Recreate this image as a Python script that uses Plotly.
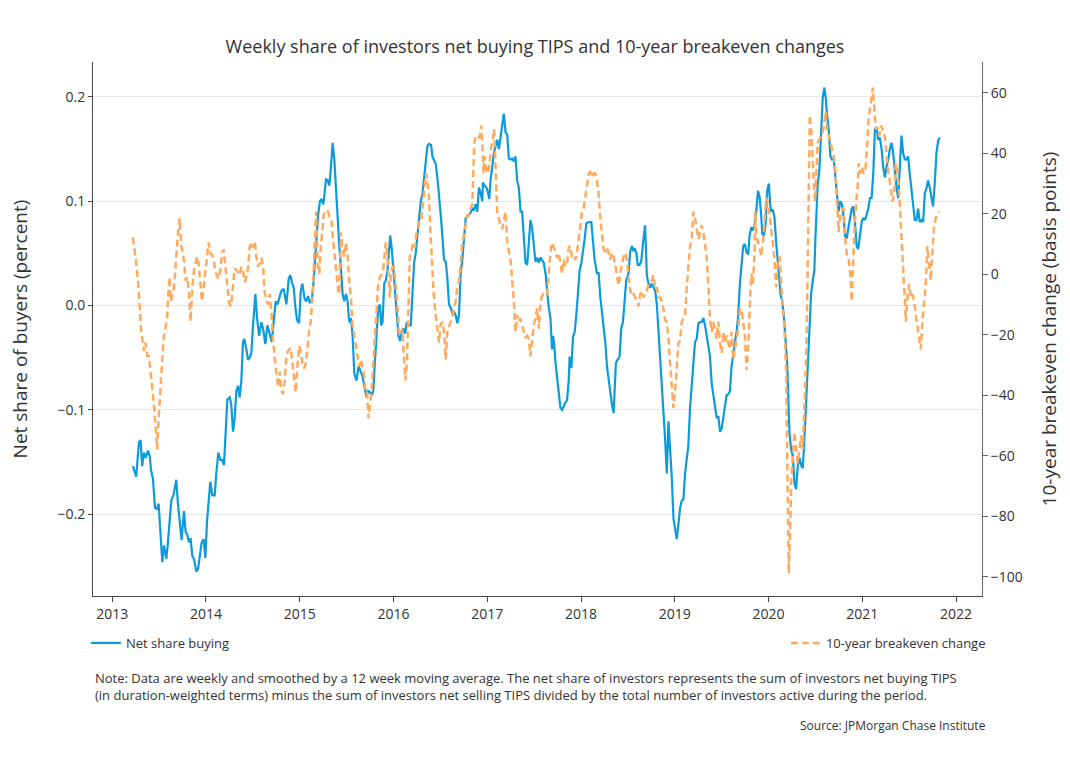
import plotly.graph_objects as go

# ---------------- data (decimal years) ----------------
net_share_years = [
2013.221,2013.256,2013.285,2013.302,2013.320,2013.338,2013.356,2013.381,2013.399,2013.416,
2013.434,2013.456,2013.477,2013.495,2013.516,2013.534,2013.552,2013.577,2013.594,2013.612,
2013.630,2013.655,2013.683,2013.701,2013.719,2013.740,2013.765,2013.783,2013.801,2013.819,
2013.836,2013.854,2013.872,2013.897,2013.915,2013.932,2013.954,2013.975,2013.993,2014.011,
2014.028,2014.046,2014.068,2014.093,2014.110,2014.132,2014.153,2014.174,2014.192,2014.210,
2014.228,2014.253,2014.270,2014.288,2014.306,2014.324,2014.342,2014.359,2014.377,2014.395,
2014.409,2014.431,2014.448,2014.466,2014.484,2014.502,2014.527,2014.544,2014.566,2014.591,
2014.609,2014.633,2014.655,2014.680,2014.701,2014.726,2014.744,2014.762,2014.786,2014.804,
2014.829,2014.858,2014.883,2014.900,2014.918,2014.936,2014.954,2014.972,2014.993,2015.011,
2015.028,2015.053,2015.071,2015.089,2015.107,2015.128,2015.149,2015.171,2015.196,2015.216,
2015.230,2015.252,2015.266,2015.280,2015.298,2015.316,2015.333,2015.351,2015.369,2015.387,
2015.404,2015.422,2015.440,2015.457,2015.475,2015.493,2015.511,2015.528,2015.546,2015.564,
2015.582,2015.606,2015.628,2015.645,2015.670,2015.691,2015.713,2015.730,2015.748,2015.770,
2015.784,2015.801,2015.819,2015.837,2015.855,2015.869,2015.883,2015.901,2015.918,2015.936,
2015.947,2015.965,2015.982,2016.000,2016.018,2016.035,2016.053,2016.071,2016.089,2016.106,
2016.124,2016.142,2016.160,2016.184,2016.202,2016.220,2016.238,2016.255,2016.273,2016.291,
2016.309,2016.326,2016.344,2016.362,2016.379,2016.401,2016.415,2016.433,2016.450,2016.468,
2016.486,2016.504,2016.521,2016.539,2016.557,2016.574,2016.592,2016.610,2016.628,2016.645,
2016.663,2016.681,2016.699,2016.716,2016.734,2016.752,2016.770,2016.787,2016.805,2016.823,
2016.840,2016.858,2016.876,2016.894,2016.911,2016.929,2016.947,2016.954,2016.972,2016.993,
2017.011,2017.021,2017.035,2017.053,2017.071,2017.089,2017.106,2017.124,2017.142,2017.160,
2017.177,2017.195,2017.213,2017.230,2017.248,2017.266,2017.284,2017.301,2017.319,2017.337,
2017.355,2017.372,2017.390,2017.408,2017.426,2017.443,2017.461,2017.479,2017.496,2017.514,
2017.532,2017.550,2017.567,2017.585,2017.603,2017.621,2017.638,2017.656,2017.674,2017.691,
2017.702,2017.716,2017.727,2017.745,2017.762,2017.780,2017.798,2017.816,2017.833,2017.851,
2017.869,2017.879,2017.897,2017.915,2017.933,2017.950,2017.968,2017.986,2018.004,2018.021,
2018.039,2018.057,2018.082,2018.110,2018.128,2018.145,2018.170,2018.188,2018.206,2018.223,
2018.241,2018.259,2018.277,2018.294,2018.312,2018.330,2018.348,2018.358,2018.372,2018.390,
2018.411,2018.429,2018.447,2018.465,2018.482,2018.507,2018.525,2018.543,2018.560,2018.571,
2018.589,2018.606,2018.624,2018.642,2018.656,2018.670,2018.684,2018.702,2018.720,2018.738,
2018.755,2018.773,2018.791,2018.809,2018.826,2018.844,2018.862,2018.879,2018.897,2018.915,
2018.933,2018.950,2018.968,2018.986,2019.004,2019.021,2019.039,2019.057,2019.074,2019.092,
2019.110,2019.128,2019.145,2019.163,2019.181,2019.199,2019.216,2019.234,2019.252,2019.270,
2019.287,2019.305,2019.323,2019.340,2019.358,2019.376,2019.394,2019.411,2019.429,2019.447,
2019.465,2019.482,2019.500,2019.518,2019.535,2019.553,2019.571,2019.589,2019.606,2019.624,
2019.642,2019.660,2019.677,2019.695,2019.713,2019.730,2019.748,2019.766,2019.784,2019.798,
2019.816,2019.833,2019.851,2019.869,2019.887,2019.904,2019.922,2019.933,2019.950,2019.968,
2019.986,2020.004,2020.018,2020.028,2020.046,2020.064,2020.082,2020.092,2020.110,2020.128,
2020.145,2020.163,2020.181,2020.199,2020.213,2020.223,2020.241,2020.259,2020.277,2020.294,
2020.312,2020.330,2020.348,2020.365,2020.383,2020.401,2020.418,2020.436,2020.454,2020.472,
2020.489,2020.500,2020.511,2020.525,2020.543,2020.553,2020.567,2020.578,2020.596,2020.610,
2020.624,2020.642,2020.660,2020.677,2020.695,2020.713,2020.730,2020.748,2020.766,2020.784,
2020.801,2020.816,2020.833,2020.851,2020.869,2020.887,2020.904,2020.922,2020.940,2020.957,
2020.975,2020.993,2021.011,2021.028,2021.046,2021.064,2021.082,2021.099,2021.117,2021.135,
2021.152,2021.170,2021.188,2021.206,2021.223,2021.241,2021.259,2021.277,2021.294,2021.312,
2021.330,2021.348,2021.365,2021.383,2021.401,2021.418,2021.436,2021.454,2021.472,2021.489,
2021.507,2021.525,2021.543,2021.560,2021.578,2021.596,2021.613,2021.631,2021.649,2021.667,
2021.684,2021.702,2021.720,2021.738,2021.755,2021.773,2021.791,2021.809,2021.826]

net_share_values = [
-0.154,-0.164,-0.131,-0.129,-0.154,-0.141,-0.146,-0.139,-0.144,-0.159,
-0.166,-0.194,-0.195,-0.190,-0.220,-0.246,-0.230,-0.243,-0.227,-0.210,
-0.187,-0.181,-0.167,-0.190,-0.207,-0.225,-0.197,-0.217,-0.220,-0.227,
-0.223,-0.240,-0.243,-0.255,-0.253,-0.243,-0.227,-0.224,-0.242,-0.207,
-0.187,-0.169,-0.182,-0.182,-0.161,-0.141,-0.148,-0.148,-0.153,-0.121,
-0.090,-0.088,-0.095,-0.121,-0.108,-0.082,-0.077,-0.088,-0.072,-0.035,
-0.032,-0.042,-0.052,-0.050,-0.045,-0.019,0.011,-0.011,-0.029,-0.016,
-0.022,-0.037,-0.019,-0.027,-0.035,-0.012,0.004,0.001,0.008,0.014,
0.016,0.001,0.026,0.029,0.022,0.017,-0.002,-0.014,-0.017,0.014,
0.021,0.006,0.004,0.009,0.003,0.004,0.024,0.051,0.087,0.100,
0.102,0.097,0.113,0.121,0.120,0.115,0.133,0.156,0.140,0.110,
0.077,0.057,0.034,0.011,0.004,0.011,0.004,-0.016,-0.012,-0.029,
-0.065,-0.072,-0.058,-0.063,-0.068,-0.078,-0.088,-0.082,-0.083,-0.086,
-0.082,-0.055,-0.025,-0.002,0.001,-0.019,-0.016,0.021,0.024,0.034,
0.046,0.067,0.054,0.034,0.011,-0.006,-0.029,-0.034,-0.025,-0.022,
-0.027,-0.016,-0.019,-0.019,0.014,0.041,0.051,0.069,0.080,0.100,
0.107,0.123,0.140,0.153,0.155,0.154,0.143,0.140,0.136,0.123,
0.100,0.087,0.067,0.044,0.042,0.027,0.001,-0.002,-0.007,-0.006,
-0.009,-0.017,-0.009,0.031,0.044,0.067,0.084,0.085,0.087,0.089,
0.093,0.092,0.097,0.090,0.113,0.108,0.100,0.118,0.115,0.113,
0.107,0.102,0.120,0.135,0.146,0.153,0.159,0.150,0.163,0.173,
0.184,0.166,0.164,0.141,0.140,0.141,0.138,0.143,0.120,0.113,
0.090,0.090,0.060,0.041,0.039,0.058,0.082,0.074,0.057,0.042,
0.046,0.041,0.046,0.044,0.041,0.031,0.014,-0.002,-0.012,-0.042,
-0.029,-0.039,-0.054,-0.068,-0.083,-0.098,-0.100,-0.096,-0.093,-0.091,
-0.072,-0.049,-0.060,-0.030,-0.025,-0.009,0.011,0.034,0.041,0.051,
0.064,0.079,0.080,0.080,0.064,0.044,0.031,0.031,0.008,-0.006,
-0.019,-0.035,-0.058,-0.072,-0.085,-0.095,-0.103,-0.082,-0.055,-0.052,
-0.049,-0.022,-0.016,0.004,0.024,0.031,0.052,0.057,0.052,0.055,
0.051,0.039,0.039,0.042,0.057,0.067,0.077,0.029,0.021,0.017,
0.021,0.017,0.014,0.001,-0.025,-0.052,-0.068,-0.101,-0.128,-0.161,
-0.111,-0.138,-0.164,-0.204,-0.214,-0.224,-0.210,-0.194,-0.187,-0.186,
-0.161,-0.148,-0.134,-0.098,-0.072,-0.055,-0.035,-0.032,-0.017,-0.016,
-0.016,-0.012,-0.019,-0.029,-0.035,-0.049,-0.075,-0.085,-0.095,-0.108,
-0.106,-0.121,-0.118,-0.108,-0.095,-0.086,-0.085,-0.082,-0.058,-0.045,
-0.035,-0.025,-0.009,0.021,0.041,0.057,0.059,0.051,0.049,0.067,
0.075,0.072,0.077,0.090,0.110,0.105,0.087,0.069,0.067,0.077,
0.110,0.117,0.097,0.090,0.092,0.084,0.060,0.047,0.031,0.011,
0.004,-0.009,-0.032,-0.055,-0.095,-0.121,-0.138,-0.144,-0.171,-0.176,
-0.154,-0.146,-0.153,-0.156,-0.128,-0.095,-0.052,-0.016,0.011,0.024,
0.034,0.064,0.097,0.117,0.130,0.153,0.176,0.199,0.209,0.199,
0.183,0.169,0.143,0.140,0.141,0.126,0.110,0.090,0.100,0.097,
0.085,0.067,0.064,0.074,0.084,0.093,0.095,0.080,0.057,0.054,
0.067,0.080,0.084,0.082,0.087,0.093,0.103,0.103,0.126,0.169,
0.171,0.159,0.161,0.150,0.133,0.123,0.133,0.140,0.150,0.156,
0.146,0.126,0.113,0.103,0.136,0.163,0.146,0.140,0.140,0.143,
0.126,0.110,0.093,0.082,0.082,0.093,0.080,0.082,0.080,0.108,
0.112,0.120,0.113,0.103,0.095,0.117,0.146,0.158,0.161]

breakeven_years = [
2013.221,2013.238,2013.256,2013.274,2013.292,2013.310,2013.327,2013.338,2013.356,2013.374,
2013.391,2013.409,2013.427,2013.445,2013.463,2013.480,2013.495,2013.512,2013.530,2013.548,
2013.566,2013.584,2013.598,2013.612,2013.623,2013.637,2013.655,2013.673,2013.690,2013.705,
2013.719,2013.737,2013.754,2013.769,2013.783,2013.801,2013.819,2013.836,2013.854,2013.872,
2013.890,2013.904,2013.922,2013.940,2013.957,2013.975,2013.993,2014.011,2014.028,2014.046,
2014.064,2014.082,2014.100,2014.117,2014.135,2014.153,2014.171,2014.189,2014.206,2014.224,
2014.246,2014.267,2014.288,2014.306,2014.324,2014.342,2014.359,2014.377,2014.395,2014.413,
2014.431,2014.448,2014.466,2014.484,2014.502,2014.520,2014.537,2014.555,2014.573,2014.591,
2014.609,2014.626,2014.644,2014.662,2014.680,2014.698,2014.715,2014.733,2014.751,2014.769,
2014.786,2014.804,2014.822,2014.840,2014.858,2014.875,2014.893,2014.904,2014.922,2014.940,
2014.957,2014.975,2014.993,2015.011,2015.028,2015.046,2015.064,2015.082,2015.100,2015.117,
2015.138,2015.156,2015.174,2015.191,2015.209,2015.220,2015.238,2015.255,2015.273,2015.298,
2015.316,2015.340,2015.358,2015.376,2015.394,2015.411,2015.422,2015.440,2015.457,2015.475,
2015.493,2015.511,2015.528,2015.546,2015.564,2015.582,2015.599,2015.617,2015.635,2015.652,
2015.670,2015.688,2015.699,2015.716,2015.734,2015.748,2015.766,2015.784,2015.801,2015.819,
2015.837,2015.855,2015.872,2015.890,2015.904,2015.918,2015.933,2015.947,2015.961,2015.972,
2015.989,2016.004,2016.021,2016.039,2016.057,2016.074,2016.092,2016.110,2016.128,2016.145,
2016.163,2016.174,2016.191,2016.209,2016.227,2016.241,2016.259,2016.277,2016.294,2016.312,
2016.330,2016.348,2016.365,2016.379,2016.394,2016.411,2016.429,2016.450,2016.468,2016.486,
2016.500,2016.521,2016.539,2016.557,2016.574,2016.592,2016.610,2016.628,2016.645,2016.663,
2016.681,2016.699,2016.716,2016.734,2016.752,2016.770,2016.787,2016.805,2016.823,2016.840,
2016.851,2016.862,2016.879,2016.897,2016.918,2016.936,2016.950,2016.961,2016.972,2016.989,
2017.007,2017.025,2017.043,2017.060,2017.074,2017.092,2017.106,2017.124,2017.142,2017.160,
2017.177,2017.195,2017.213,2017.230,2017.248,2017.266,2017.284,2017.301,2017.319,2017.337,
2017.355,2017.372,2017.390,2017.408,2017.426,2017.443,2017.461,2017.479,2017.496,2017.514,
2017.532,2017.550,2017.560,2017.578,2017.596,2017.613,2017.638,2017.656,2017.674,2017.691,
2017.709,2017.727,2017.745,2017.762,2017.780,2017.798,2017.816,2017.833,2017.851,2017.869,
2017.887,2017.904,2017.922,2017.940,2017.957,2017.975,2017.993,2018.011,2018.028,2018.046,
2018.064,2018.082,2018.099,2018.117,2018.135,2018.152,2018.170,2018.188,2018.206,2018.223,
2018.241,2018.259,2018.277,2018.294,2018.312,2018.330,2018.348,2018.365,2018.383,2018.401,
2018.418,2018.436,2018.454,2018.472,2018.489,2018.507,2018.525,2018.543,2018.560,2018.578,
2018.596,2018.613,2018.631,2018.649,2018.667,2018.684,2018.702,2018.720,2018.738,2018.755,
2018.773,2018.791,2018.809,2018.826,2018.844,2018.862,2018.879,2018.897,2018.915,2018.933,
2018.950,2018.968,2018.986,2019.004,2019.021,2019.039,2019.057,2019.074,2019.092,2019.110,
2019.128,2019.145,2019.163,2019.181,2019.199,2019.216,2019.234,2019.252,2019.270,2019.287,
2019.305,2019.323,2019.340,2019.358,2019.376,2019.394,2019.411,2019.429,2019.447,2019.465,
2019.482,2019.500,2019.518,2019.535,2019.553,2019.571,2019.589,2019.606,2019.624,2019.642,
2019.660,2019.677,2019.695,2019.713,2019.730,2019.748,2019.766,2019.784,2019.798,2019.816,
2019.833,2019.851,2019.858,2019.869,2019.887,2019.904,2019.922,2019.940,2019.957,2019.975,
2019.993,2020.011,2020.028,2020.046,2020.064,2020.082,2020.099,2020.117,2020.135,2020.152,
2020.170,2020.188,2020.199,2020.206,2020.216,2020.230,2020.241,2020.259,2020.277,2020.294,
2020.312,2020.330,2020.348,2020.365,2020.383,2020.401,2020.418,2020.429,2020.440,2020.454,
2020.465,2020.482,2020.496,2020.511,2020.525,2020.543,2020.560,2020.578,2020.596,2020.610,
2020.624,2020.642,2020.660,2020.677,2020.695,2020.713,2020.730,2020.748,2020.766,2020.784,
2020.801,2020.819,2020.837,2020.855,2020.872,2020.887,2020.901,2020.915,2020.933,2020.950,
2020.961,2020.979,2020.996,2021.014,2021.032,2021.050,2021.064,2021.082,2021.099,2021.113,
2021.128,2021.145,2021.163,2021.181,2021.199,2021.216,2021.234,2021.252,2021.270,2021.287,
2021.305,2021.323,2021.340,2021.358,2021.376,2021.394,2021.411,2021.429,2021.447,2021.465,
2021.482,2021.500,2021.518,2021.535,2021.553,2021.571,2021.589,2021.606,2021.624,2021.642,
2021.660,2021.677,2021.695,2021.713,2021.730,2021.748,2021.766,2021.784,2021.801,2021.819]

breakeven_values = [
12.2,8.8,3.6,-2.1,-10.0,-19.1,-22.6,-25.4,-22.6,-27.1,
-27.1,-31.7,-37.4,-43.1,-52.2,-57.9,-47.6,-38.5,-30.5,-21.4,
-18.0,-14.6,-6.6,-0.9,-8.9,-7.7,-5.5,1.4,9.3,15.0,
18.5,9.3,7.1,3.6,-2.1,-0.9,-6.6,-15.7,-4.3,1.4,
3.6,5.9,3.6,-3.2,-8.9,-4.3,0.2,4.8,10.5,7.1,
6.5,4.8,0.8,-0.3,-1.5,1.4,7.1,8.2,2.5,-4.3,
-9.5,-10.6,-3.2,1.9,1.4,0.8,-0.3,2.5,1.4,-2.6,
-0.9,1.9,8.8,10.5,8.8,11.0,5.9,2.5,3.6,5.4,
2.5,-6.0,-8.3,-10.0,-6.6,-12.3,-22.0,-28.2,-32.8,-37.4,
-32.2,-38.5,-39.6,-35.1,-27.1,-25.4,-24.8,-24.3,-29.4,-35.1,
-39.1,-30.5,-23.7,-25.4,-29.4,-31.1,-29.4,-24.8,-18.6,-15.7,
-6.6,7.1,20.7,3.6,0.2,7.1,12.8,19.6,20.7,21.3,
19.0,17.3,10.5,4.8,0.2,-5.5,-6.6,13.9,8.2,5.9,
10.5,5.9,-2.1,-7.7,-16.9,-20.3,-24.8,-27.1,-30.5,-28.2,
-31.7,-33.9,-38.5,-38.5,-47.6,-43.1,-38.5,-29.4,-20.3,-12.3,
-3.2,-0.9,-0.3,1.4,5.9,10.5,7.1,-3.2,-7.7,0.2,
2.5,2.5,-3.2,-8.9,-19.1,-20.3,-18.0,-26.0,-35.1,-28.2,
-3.2,5.9,7.1,10.5,8.8,12.8,15.0,17.3,17.3,23.0,
29.8,33.3,29.8,25.3,13.9,3.6,-6.6,-13.4,-19.1,-22.6,
-16.9,-15.7,-19.1,-28.2,-19.1,-16.9,-15.7,-14.0,-11.2,-8.9,
-4.3,-2.1,3.6,10.5,12.8,17.3,19.6,19.6,21.9,23.0,
32.1,43.5,45.8,45.2,45.2,49.2,41.2,33.3,39.0,34.4,
33.3,36.7,42.4,44.6,48.1,31.0,20.7,18.5,16.2,15.0,
18.5,20.7,10.5,8.2,4.8,-2.1,-8.9,-19.1,-13.4,-15.7,
-14.6,-16.9,-19.1,-20.8,-20.3,-21.4,-27.1,-22.6,-16.9,-14.6,
-11.2,-18.0,-12.3,-7.7,-6.6,-7.2,-6.6,0.2,7.1,10.5,
9.3,7.6,5.4,7.1,3.6,0.2,4.8,2.5,3.6,8.8,
9.3,5.4,5.9,4.8,7.1,11.6,16.2,20.7,21.9,25.3,
28.7,33.3,33.8,32.1,33.3,33.3,31.5,26.4,18.5,12.8,
8.2,7.6,8.8,7.1,4.8,7.1,5.9,3.1,0.2,-3.8,
0.2,3.6,5.9,7.1,4.8,-0.9,-5.5,-7.2,-6.6,-7.7,
-8.3,-10.6,-6.6,-5.5,-7.7,-6.6,-5.5,-3.2,-2.6,-2.1,
-0.3,-4.9,-4.3,-7.7,-7.7,-8.9,-11.2,-15.1,-15.7,-21.4,
-29.4,-36.2,-44.2,-38.5,-29.4,-22.6,-22.0,-15.7,-14.6,-13.4,
-4.3,2.5,9.3,11.6,20.7,18.5,15.0,11.6,13.9,16.2,
13.9,9.3,5.9,-3.2,-14.6,-19.1,-15.7,-18.0,-21.4,-15.7,
-22.6,-26.0,-19.1,-22.6,-20.3,-22.6,-24.8,-19.1,-28.2,-24.8,
-21.4,-18.0,-11.2,-12.3,-15.7,-20.3,-31.7,-23.7,-12.3,0.2,
-3.2,7.1,20.7,13.9,10.5,9.3,5.9,10.5,17.3,25.3,
24.1,19.6,16.2,10.5,4.8,-4.3,4.8,5.9,-3.2,-11.2,
-18.0,-31.7,-54.4,-77.2,-98.9,-86.3,-69.2,-60.1,-52.2,-57.9,
-62.4,-57.9,-53.3,-57.9,-45.3,-29.4,2.5,36.7,52.6,48.1,
40.1,31.0,24.1,34.4,43.5,44.6,45.8,46.9,50.3,53.8,
48.1,45.8,43.5,41.2,39.0,34.4,21.9,13.9,19.6,20.7,
21.9,11.6,5.9,4.8,0.2,-8.9,4.8,13.9,23.0,28.7,
36.7,33.3,35.5,33.3,34.4,41.2,50.3,54.9,58.3,61.7,
54.9,48.1,48.6,45.8,49.2,48.1,46.9,42.4,35.5,32.1,
27.6,24.1,26.4,36.7,33.3,27.6,16.2,7.1,-4.3,-15.7,
-7.7,-3.2,-7.7,-6.6,-8.9,-13.4,-16.9,-21.4,-24.8,-15.7,
-8.9,-3.2,9.3,2.5,-2.1,7.1,16.2,18.5,20.2,20.7]

year_ticks = list(range(2013, 2023))

# ---------------- figure ----------------
BLUE = "#0B9BDC"
ORANGE = "#FFAA5E"
FONT = "Open Sans, Lato, DejaVu Sans, sans-serif"
TXT = "#333333"

fig = go.Figure()
fig.add_trace(go.Scatter(
    x=net_share_years, y=net_share_values, name="Net share buying",
    mode="lines", line=dict(color=BLUE, width=2.2), yaxis="y", legend="legend",
    showlegend=True))
fig.add_trace(go.Scatter(
    x=breakeven_years, y=breakeven_values, name="10-year breakeven change",
    mode="lines", line=dict(color=ORANGE, width=2.5, dash="7px,4px"), yaxis="y2",
    legend="legend2", showlegend=True))

fig.update_layout(
    width=1070, height=770,
    showlegend=True,
    margin=dict(l=93, r=88, t=62, b=174),
    paper_bgcolor="white", plot_bgcolor="white",
    font=dict(family=FONT, size=14, color=TXT),
    title=dict(text="Weekly share of investors net buying TIPS and 10-year breakeven changes",
               x=0.5, xanchor="center", y=1 - 47 / 770, yanchor="middle",
               font=dict(size=18, color=TXT, family=FONT, weight=500)),
    xaxis=dict(range=[2012.795, 2022.277], tickmode="array", tickvals=year_ticks,
               ticktext=[str(y) for y in year_ticks],
               showgrid=False, zeroline=False, showline=True, linecolor="#444",
               linewidth=1, ticks="outside", ticklen=5, tickcolor="#444",
               tickfont=dict(size=14, color=TXT)),
    yaxis=dict(range=[-0.2785, 0.2335], tickvals=[-0.2, -0.1, 0.0, 0.1, 0.2],
               tickformat=".1f", showgrid=True, gridcolor="#E6E6E6", gridwidth=1,
               zeroline=False, showline=True, linecolor="#444", linewidth=1,
               ticks="outside", ticklen=4, tickcolor="#444",
               tickfont=dict(size=14, color=TXT),
               title=dict(text="Net share of buyers (percent)", standoff=24,
                          font=dict(size=19, color=TXT))),
    yaxis2=dict(range=[-106.4, 70.2], tickvals=[-100, -80, -60, -40, -20, 0, 20, 40, 60],
                overlaying="y", side="right", showgrid=False, zeroline=False,
                showline=True, linecolor="#666", linewidth=1, ticks="outside",
                ticklen=5, tickcolor="#666", tickfont=dict(size=14, color=TXT),
                title=dict(text="10-year breakeven change (basis points)", standoff=20,
                           font=dict(size=19, color=TXT))),
    legend=dict(orientation="h", x=-0.008, xanchor="left", y=-0.088, yanchor="middle",
                font=dict(size=13, color=TXT), bgcolor="rgba(0,0,0,0)",
                itemwidth=30, visible=True),
    legend2=dict(orientation="h", x=1.01, xanchor="right", y=-0.088, yanchor="middle",
                 font=dict(size=13, color=TXT), bgcolor="rgba(0,0,0,0)",
                 itemwidth=30, visible=True),
    annotations=[
        dict(text="Note: Data are weekly and smoothed by a 12 week moving average. The net share of investors represents the sum of investors net buying TIPS<br>"
                  "(in duration-weighted terms) minus the sum of investors net selling TIPS divided by the total number of investors active during the period.",
             xref="paper", yref="paper", x=0, xanchor="left", y=-0.170, yanchor="middle",
             showarrow=False, align="left", font=dict(size=13, color=TXT)),
        dict(text="Source: JPMorgan Chase Institute", xref="paper", yref="paper",
             x=1.007, xanchor="right", y=-0.2416, yanchor="middle", showarrow=False,
             font=dict(size=12, color=TXT)),
    ],
)

fig.write_html("out.html")
